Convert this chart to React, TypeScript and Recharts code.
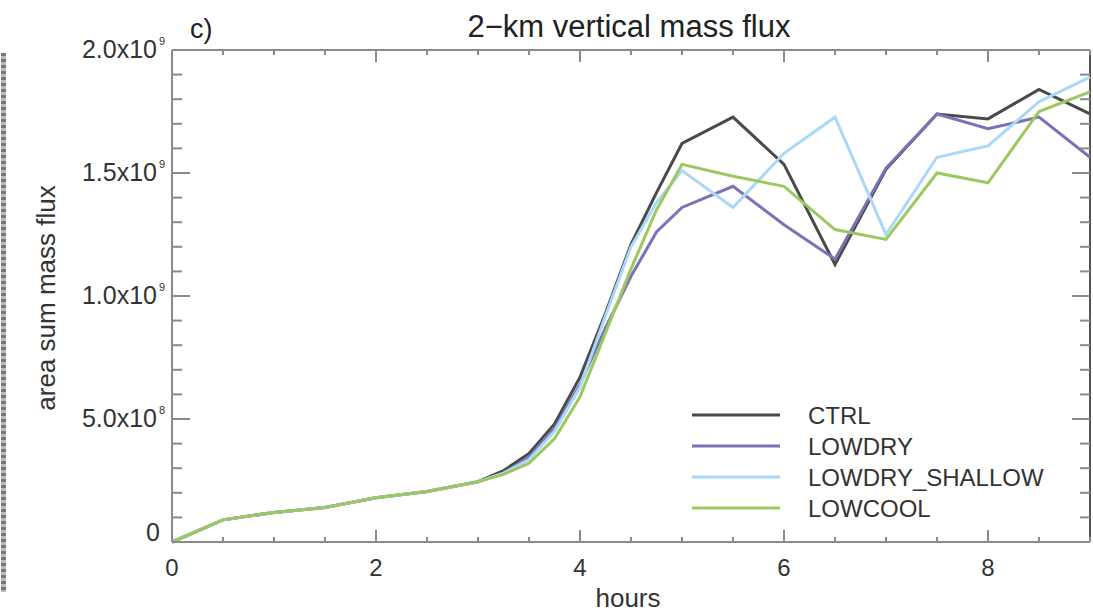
import React from "react";
import { LineChart, Line, XAxis, YAxis, ReferenceLine } from "recharts";

// hours since start
const hours = [0, 0.5, 1, 1.5, 2, 2.5, 3, 3.25, 3.5, 3.75, 4, 4.25, 4.5, 4.75, 5, 5.5, 6, 6.5, 7, 7.5, 8, 8.5, 9];
// area-sum mass flux, units of 10^9
const ctrl = [0, 0.09, 0.12, 0.14, 0.18, 0.205, 0.245, 0.29, 0.36, 0.48, 0.67, 0.93, 1.21, 1.42, 1.62, 1.727, 1.535, 1.128, 1.515, 1.74, 1.72, 1.84, 1.74];
const lowdry = [0, 0.09, 0.12, 0.14, 0.18, 0.205, 0.245, 0.28, 0.345, 0.46, 0.64, 0.87, 1.08, 1.26, 1.36, 1.446, 1.29, 1.15, 1.52, 1.74, 1.68, 1.727, 1.564];
const lowdryShallow = [0, 0.09, 0.12, 0.14, 0.18, 0.205, 0.245, 0.28, 0.335, 0.45, 0.63, 0.92, 1.2, 1.38, 1.51, 1.36, 1.58, 1.727, 1.25, 1.564, 1.61, 1.79, 1.89];
const lowcool = [0, 0.09, 0.12, 0.14, 0.18, 0.205, 0.245, 0.275, 0.32, 0.42, 0.59, 0.85, 1.11, 1.35, 1.535, 1.487, 1.446, 1.27, 1.23, 1.5, 1.46, 1.75, 1.83];

const xTicks = [0, 0.5, 1, 1.5, 2, 2.5, 3, 3.5, 4, 4.5, 5, 5.5, 6, 6.5, 7, 7.5, 8, 8.5, 9];
const xMajor = [0, 2, 4, 6, 8];
const yTicks = Array.from({ length: 21 }, (_, i) => Math.round(i * 10) / 100);
const yLabels: Record<string, [string, string]> = {
  "0": ["0", ""],
  "0.5": ["5.0x10", "8"],
  "1": ["1.0x10", "9"],
  "1.5": ["1.5x10", "9"],
  "2": ["2.0x10", "9"],
};

const series = [
  { key: "CTRL", values: ctrl, color: "#4a4a4a" },
  { key: "LOWDRY", values: lowdry, color: "#7b72b8" },
  { key: "LOWDRY_SHALLOW", values: lowdryShallow, color: "#a9d9f7" },
  { key: "LOWCOOL", values: lowcool, color: "#9cc862" },
];

const data = hours.map((h, i) => {
  const row: Record<string, number> = { h };
  series.forEach((s) => (row[s.key] = s.values[i]));
  return row;
});

const W = 1093;
const H = 613;
const XH = 30;
const YW = 30;
const M = { top: 50, right: 3, bottom: 71 - XH, left: 172 - YW };
const PL = 172;
const PR = W - M.right;
const PT = M.top;
const PB = H - 71;
const AX = "#8a8a8a";
const FONT = "'Liberation Sans', Arial, sans-serif";

const XTick = (props: any) => {
  const { x, payload } = props;
  const v = payload.value;
  const major = xMajor.includes(v);
  const len = major ? 12 : 5;
  return (
    <g>
      <line x1={x} x2={x} y1={PB} y2={PB - len} stroke={AX} strokeWidth={2} />
      <line x1={x} x2={x} y1={PT} y2={PT + len} stroke={AX} strokeWidth={2} />
      {major && (
        <text x={x} y={576} textAnchor="middle" fontSize={24} fill="#333" fontFamily={FONT}>
          {String(v)}
        </text>
      )}
    </g>
  );
};

const YTick = (props: any) => {
  const { y, payload } = props;
  const v = payload.value;
  const lab = yLabels[String(v)];
  const major = !!lab;
  const len = major ? 18 : 10;
  return (
    <g>
      <line x1={PL} x2={PL + len} y1={y} y2={y} stroke={AX} strokeWidth={2} />
      <line x1={PR} x2={PR - len} y1={y} y2={y} stroke={AX} strokeWidth={2} />
      {lab && (
        <text x={lab[1] ? 157 : 160} y={y + (v === 0 ? -1 : 8)} textAnchor="end" fontSize={25} fill="#333" fontFamily={FONT}>
          {lab[0]}
        </text>
      )}
      {lab && lab[1] && (
        <text x={159} y={y - 5} textAnchor="start" fontSize={11} fill="#333" fontFamily={FONT}>
          {lab[1]}
        </text>
      )}
    </g>
  );
};

export default function App() {
  return (
    <div style={{ position: "absolute", left: 0, top: 0, width: W, height: H, background: "#fff" }}>
      <div
        style={{
          position: "absolute",
          left: 1,
          top: 53,
          width: 5,
          height: 539,
          background: "repeating-linear-gradient(to bottom, #777 0px, #777 3px, #bbb 3px, #bbb 6px)",
        }}
      />
      <LineChart width={W} height={H} data={data} margin={M}>
        <XAxis
          dataKey="h"
          type="number"
          domain={[0, 9]}
          ticks={xTicks}
          interval={0}
          height={XH}
          tickLine={false}
          axisLine={{ stroke: AX, strokeWidth: 2 }}
          tick={(p: any) => <XTick {...p} />}
        />
        <YAxis
          type="number"
          domain={[0, 2]}
          ticks={yTicks}
          interval={0}
          width={YW}
          tickLine={false}
          axisLine={{ stroke: AX, strokeWidth: 2 }}
          tick={(p: any) => <YTick {...p} />}
        />
        <ReferenceLine y={2} stroke={AX} strokeWidth={2} />
        <ReferenceLine x={9} stroke="#555" strokeWidth={2} />
        {series.map((s) => (
          <Line
            key={s.key}
            dataKey={s.key}
            stroke={s.color}
            strokeWidth={3}
            dot={false}
            type="linear"
            isAnimationActive={false}
          />
        ))}
        <text x={629} y={37} textAnchor="middle" fontSize={31} fill="#222" fontFamily={FONT}>
          2−km vertical mass flux
        </text>
        <text x={190} y={38} fontSize={27} fill="#222" fontFamily={FONT}>
          c)
        </text>
        <text x={628} y={607} textAnchor="middle" fontSize={26} fill="#333" fontFamily={FONT}>
          hours
        </text>
        <text
          x={0}
          y={0}
          transform="translate(55,298) rotate(-90)"
          textAnchor="middle"
          fontSize={26}
          fill="#333"
          fontFamily={FONT}
        >
          area sum mass flux
        </text>
        {series.map((s, i) => (
          <g key={"lg" + s.key}>
            <line x1={692} x2={780} y1={415 + i * 31} y2={415 + i * 31} stroke={s.color} strokeWidth={3} />
            <text x={808} y={415 + i * 31 + 9} fontSize={24} fill="#333" fontFamily={FONT}>
              {s.key}
            </text>
          </g>
        ))}
      </LineChart>
    </div>
  );
}
